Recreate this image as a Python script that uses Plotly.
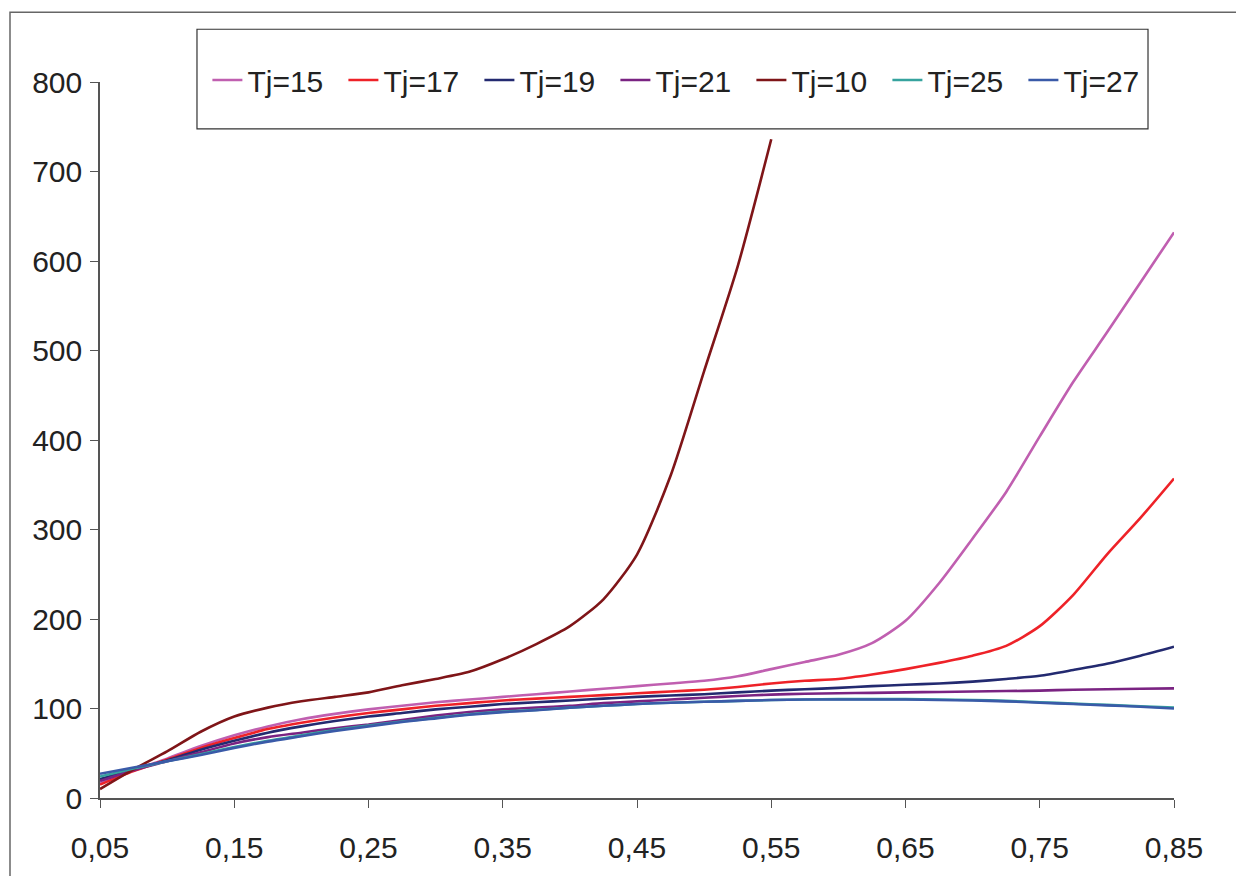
import plotly.graph_objects as go

x_vals = [0.05, 0.075, 0.1, 0.125, 0.15, 0.175, 0.2, 0.225, 0.25, 0.275, 0.3, 0.325,
          0.35, 0.375, 0.4, 0.425, 0.45, 0.475, 0.5, 0.525, 0.55, 0.575, 0.6, 0.625,
          0.65, 0.675, 0.7, 0.725, 0.75, 0.775, 0.8, 0.825, 0.85]

tj15 = [16, 31, 44, 58, 70, 80, 88, 94, 99, 103, 107, 110, 113, 116, 119, 122, 125, 128,
        131, 136, 144, 152, 160, 173, 198, 240, 290, 342, 404, 465, 520, 576, 632]
tj17 = [15, 30, 43, 56, 67, 77, 84, 90, 95, 99, 103, 106, 109, 111, 113, 115, 117, 119,
        121, 124, 128, 131, 133, 138, 144, 151, 159, 170, 192, 227, 272, 313, 357]
tj19 = [21, 32, 42, 54, 64, 73, 80, 86, 91, 95, 99, 102, 105, 107, 109, 111, 113, 114.5,
        116, 118, 120, 121.5, 123, 125, 126.5, 128, 130, 133, 136.5, 143, 150, 159, 169]
tj21 = [19, 31, 41, 51, 61, 68, 73, 78, 82, 87, 92, 96, 99, 101, 103, 106, 108, 110,
        112, 114, 115.5, 116.5, 117, 117.5, 118, 118.5, 119, 119.5, 120, 121, 121.5, 122, 122.5]
x_tj10 = [0.05, 0.075, 0.1, 0.125, 0.15, 0.175, 0.2, 0.225, 0.25, 0.275, 0.3, 0.325,
          0.35, 0.375, 0.4, 0.425, 0.45, 0.475, 0.5, 0.525, 0.55]
tj10 = [10, 32, 52, 74, 91, 101, 108, 113, 118, 126, 133, 141, 155, 172, 192, 222, 272,
        360, 477, 594, 736]
tj25 = [24, 33, 41, 49, 57, 64, 70, 76, 81, 85.5, 89.5, 93.5, 96.5, 98.5, 101, 103, 105,
        106.5, 107.5, 108.5, 109.5, 110, 110.5, 110.5, 110.5, 110, 109.5, 108.5, 107, 105.5,
        104, 102.5, 101]
tj27 = [27, 34, 41, 48, 56, 63, 69, 75, 80, 85, 89, 93, 96, 98, 101, 103, 105, 106.5,
        107.5, 108.5, 109.5, 110, 110, 110, 110, 109.5, 109, 108, 106.5, 105, 103.5, 102, 100]

x_ticks = [0.05, 0.15, 0.25, 0.35, 0.45, 0.55, 0.65, 0.75, 0.85]
y_ticks = [0, 100, 200, 300, 400, 500, 600, 700, 800]

series = [
    ("Tj=15", x_vals, tj15, "#c05fb0"),
    ("Tj=17", x_vals, tj17, "#ee2228"),
    ("Tj=19", x_vals, tj19, "#232a70"),
    ("Tj=21", x_vals, tj21, "#7a2382"),
    ("Tj=10", x_tj10, tj10, "#7f1518"),
    ("Tj=25", x_vals, tj25, "#36a39e"),
    ("Tj=27", x_vals, tj27, "#3a5aa8"),
]

fig = go.Figure()
for name, xs, ys, col in series:
    fig.add_trace(go.Scatter(x=xs, y=ys, name=name, mode="lines",
                             line=dict(color=col, width=2.6, shape="spline", smoothing=0.7)))

axis_col = "#555555"
font = dict(family="Liberation Sans, Arial, sans-serif", size=30, color="#222222")

fig.update_layout(
    width=1236, height=876,
    margin=dict(l=100, r=62, t=82, b=75),
    paper_bgcolor="white", plot_bgcolor="white",
    separators=",.",
    font=font,
    showlegend=True,
    legend=dict(orientation="h", x=0.1, xanchor="left", y=1.0028, yanchor="middle",
                bgcolor="rgba(0,0,0,0)", borderwidth=0,
                entrywidth=91, entrywidthmode="pixels",
                font=dict(family="Liberation Sans, Arial, sans-serif", size=30, color="#222222")),
    xaxis=dict(range=[0.05, 0.85], tickvals=x_ticks, tickformat=".2f",
               showgrid=False, zeroline=False, showline=True, linecolor=axis_col, linewidth=1.5,
               ticks="outside", ticklen=8, tickwidth=1.3, tickcolor=axis_col,
               ticklabelstandoff=14),
    yaxis=dict(range=[0, 800], tickvals=y_ticks,
               showgrid=False, zeroline=False, showline=True, linecolor=axis_col, linewidth=1.5,
               ticks="outside", ticklen=8, tickwidth=1.3, tickcolor=axis_col,
               ticklabelstandoff=2),
    xaxis2=dict(range=[0.05, 0.85], tickvals=x_ticks, overlaying="x", anchor="y",
                showticklabels=False, showgrid=False, zeroline=False, showline=False,
                ticks="inside", ticklen=8, tickwidth=1.3, tickcolor=axis_col),
    yaxis2=dict(range=[0, 800], tickvals=y_ticks, overlaying="y", anchor="x",
                showticklabels=False, showgrid=False, zeroline=False, showline=False,
                ticks="inside", ticklen=8, tickwidth=1.3, tickcolor=axis_col),
    shapes=[
        # outer frame
        dict(type="rect", xref="paper", yref="paper",
             x0=-0.0838, x1=1.09, y0=-0.12, y1=1.0974,
             line=dict(color="#666666", width=1.5), fillcolor="rgba(0,0,0,0)", layer="below"),
        # legend box
        dict(type="rect", xref="paper", yref="paper",
             x0=0.0903, x1=0.9758, y0=0.9346, y1=1.0737,
             line=dict(color="#333333", width=1.2), fillcolor="white", layer="below"),
    ],
)

fig.write_html("out.html")
